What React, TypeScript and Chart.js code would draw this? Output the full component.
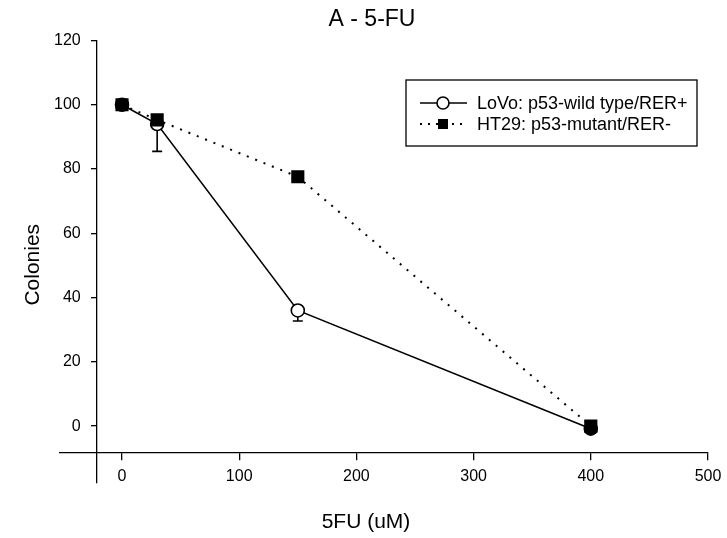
import React, { useEffect, useRef } from "react";
import { Chart, registerables } from "chart.js";

Chart.register(...registerables);

// ---- data ----
const doses = [0, 30, 150, 400];
const lovoColonies = [100, 94, 36, -0.8];
const lovoErrorDown = [0, 8.5, 3.3, 0];
const ht29Colonies = [100, 95.3, 77.6, 0];
const xTickValues = [0, 100, 200, 300, 400, 500];
const yTickValues = [0, 20, 40, 60, 80, 100, 120];
const chartTitle = "A - 5-FU";
const xTitle = "5FU (uM)";
const yTitle = "Colonies";
const lovoLabel = "LoVo: p53-wild type/RER+";
const ht29Label = "HT29: p53-mutant/RER-";

const FONT = '"Liberation Sans", Arial, Helvetica, sans-serif';
const Y_MIN = -17.7;
const Y_MAX = 120;

const errorBarPlugin = {
  id: "errorBars",
  beforeDatasetsDraw(chart: any) {
    const { ctx } = chart;
    const xs = chart.scales.x;
    const ys = chart.scales.y;
    ctx.save();
    ctx.strokeStyle = "#000";
    ctx.lineWidth = 1.6;
    lovoErrorDown.forEach((err, i) => {
      if (!err) return;
      const x = xs.getPixelForValue(doses[i]);
      const y1 = ys.getPixelForValue(lovoColonies[i]);
      const y2 = ys.getPixelForValue(lovoColonies[i] - err);
      ctx.beginPath();
      ctx.moveTo(x, y1);
      ctx.lineTo(x, y2);
      ctx.moveTo(x - 5, y2);
      ctx.lineTo(x + 5, y2);
      ctx.stroke();
    });
    ctx.restore();
  },
};

const textPlugin = {
  id: "texts",
  afterDraw(chart: any) {
    const { ctx, chartArea } = chart;
    ctx.save();
    ctx.fillStyle = "#000";
    ctx.textAlign = "center";
    ctx.textBaseline = "middle";
    ctx.font = `23px ${FONT}`;
    ctx.fillText(chartTitle, 372, 20);
    ctx.font = `21px ${FONT}`;
    ctx.fillText(xTitle, 366, 522);
    ctx.save();
    ctx.translate(33, (chartArea.top + chartArea.bottom) / 2 + 3);
    ctx.rotate(-Math.PI / 2);
    ctx.fillText(yTitle, 0, 0);
    ctx.restore();

    // legend
    const bx = 406, by = 80, bw = 291, bh = 66;
    ctx.strokeStyle = "#000";
    ctx.lineWidth = 1.3;
    ctx.strokeRect(bx, by, bw, bh);
    const rows = [103, 124];
    const sx1 = 420, sx2 = 467, mx = 443;
    ctx.lineWidth = 1.6;
    ctx.beginPath();
    ctx.moveTo(sx1, rows[0]);
    ctx.lineTo(sx2, rows[0]);
    ctx.stroke();
    ctx.beginPath();
    ctx.arc(mx, rows[0], 6, 0, Math.PI * 2);
    ctx.fillStyle = "#fff";
    ctx.fill();
    ctx.stroke();
    ctx.setLineDash([2, 6]);
    ctx.lineWidth = 2;
    ctx.beginPath();
    ctx.moveTo(sx1, rows[1]);
    ctx.lineTo(sx2, rows[1]);
    ctx.stroke();
    ctx.setLineDash([]);
    ctx.fillStyle = "#000";
    ctx.fillRect(mx - 5, rows[1] - 5, 10, 10);
    ctx.font = `18px ${FONT}`;
    ctx.textAlign = "left";
    ctx.fillText(lovoLabel, 477, rows[0] + 1);
    ctx.fillText(ht29Label, 477, rows[1] + 1);
    ctx.restore();
  },
};

export default function App() {
  const canvasRef = useRef<HTMLCanvasElement | null>(null);

  useEffect(() => {
    document.body.style.margin = "0";
    const canvas = canvasRef.current;
    if (!canvas) return;
    const chart = new Chart(canvas, {
      type: "line",
      data: {
        datasets: [
          {
            label: ht29Label,
            data: doses.map((x, i) => ({ x, y: ht29Colonies[i] })),
            yAxisID: "y",
            borderColor: "#000",
            borderWidth: 2,
            borderDash: [2, 7],
            borderCapStyle: "butt",
            pointStyle: "rect",
            pointRadius: 9.3,
            pointBackgroundColor: "#000",
            pointBorderColor: "#000",
            pointBorderWidth: 0,
            fill: false,
            tension: 0,
          },
          {
            label: lovoLabel,
            data: doses.map((x, i) => ({ x, y: lovoColonies[i] })),
            yAxisID: "y",
            borderColor: "#000",
            borderWidth: 1.6,
            pointStyle: "circle",
            pointRadius: 6.5,
            pointBackgroundColor: ["#fff", "#fff", "#fff", "#000"],
            pointBorderColor: "#000",
            pointBorderWidth: 1.6,
            fill: false,
            tension: 0,
          },
        ],
      },
      options: {
        responsive: false,
        animation: false,
        events: [],
        layout: { padding: { left: 60, right: 19, top: 40.5, bottom: 55 } },
        plugins: {
          legend: { display: false },
          tooltip: { enabled: false },
          title: { display: false },
        },
        scales: {
          x: {
            type: "linear",
            min: -52.9,
            max: 500,
            position: { y: -8.2 } as any,
            afterFit: (s: any) => {
              s.height = 0;
              s.paddingLeft = 0;
              s.paddingRight = 0;
            },
            afterBuildTicks: (s: any) => {
              s.ticks = xTickValues.map((v) => ({ value: v }));
            },
            grid: {
              drawOnChartArea: false,
              drawTicks: true,
              tickLength: 7,
              color: "#000",
              lineWidth: 1.3,
            },
            border: { display: true, color: "#000", width: 1.3 },
            ticks: {
              color: "#000",
              font: { family: FONT, size: 16 },
              padding: 8,
              maxRotation: 0,
              autoSkip: false,
            },
          },
          y: {
            type: "linear",
            min: Y_MIN,
            max: Y_MAX,
            position: { x: -21.5 } as any,
            afterFit: (s: any) => {
              s.width = 0;
              s.paddingTop = 0;
              s.paddingBottom = 0;
            },
            afterBuildTicks: (s: any) => {
              s.ticks = yTickValues.map((v) => ({ value: v }));
            },
            grid: {
              drawOnChartArea: false,
              drawTicks: true,
              tickLength: 5,
              color: "#000",
              lineWidth: 1.3,
            },
            border: { display: true, color: "#000", width: 1.3 },
            ticks: { display: false },
          },
          yLabels: {
            type: "linear",
            axis: "y",
            min: Y_MIN,
            max: Y_MAX,
            position: { x: -35.2 } as any,
            afterFit: (s: any) => {
              s.width = 0;
              s.paddingTop = 0;
              s.paddingBottom = 0;
            },
            afterBuildTicks: (s: any) => {
              s.ticks = yTickValues.map((v) => ({ value: v }));
            },
            grid: { display: false, drawTicks: false },
            border: { display: false },
            ticks: {
              color: "#000",
              font: { family: FONT, size: 16 },
              padding: 0,
              autoSkip: false,
            },
          },
        },
      },
      plugins: [errorBarPlugin, textPlugin],
    } as any);
    return () => chart.destroy();
  }, []);

  return (
    <div style={{ position: "absolute", left: 0, top: 0, width: 727, height: 538, background: "#fff" }}>
      <canvas ref={canvasRef} width={727} height={538} style={{ display: "block", width: 727, height: 538 }} />
    </div>
  );
}
